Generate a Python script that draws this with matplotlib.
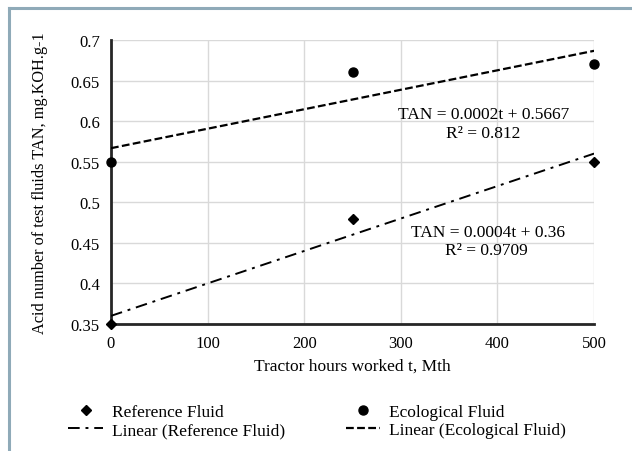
import numpy as np
from matplotlib import pyplot as plt
from matplotlib.lines import Line2D

hours = [0, 250, 500]
reference_tan = [0.35, 0.48, 0.55]
ecological_tan = [0.55, 0.66, 0.67]
x_ticks = [0, 100, 200, 300, 400, 500]
y_ticks = [0.35, 0.4, 0.45, 0.5, 0.55, 0.6, 0.65, 0.7]
ref_eq = ["TAN = 0.0004t + 0.36", "R² = 0.9709"]
eco_eq = ["TAN = 0.0002t + 0.5667", "R² = 0.812"]

plt.rcParams["font.family"] = ["Liberation Serif", "DejaVu Serif"]
plt.rcParams["font.size"] = 12

fig = plt.figure(figsize=(6.32, 4.52), dpi=100)
ax = fig.add_axes([0.1756, 0.281, 0.7644, 0.6283])

# linear trend lines fitted from the points
t = np.array([0, 500])
k_ref, b_ref = np.polyfit(hours, reference_tan, 1)
k_eco, b_eco = np.polyfit(hours, ecological_tan, 1)

ref_pts, = ax.plot(hours, reference_tan, linestyle="none", marker="D", markersize=5,
                   color="black", label="Reference Fluid", zorder=4, clip_on=False)
eco_pts, = ax.plot(hours, ecological_tan, linestyle="none", marker="o", markersize=6.5,
                   color="black", label="Ecological Fluid", zorder=4, clip_on=False)
ref_lin, = ax.plot(t, k_ref * t + b_ref, color="black", lw=1.4, linestyle=(0, (6, 3, 1.5, 3)),
                   label="Linear (Reference Fluid)", zorder=3)
eco_lin, = ax.plot(t, k_eco * t + b_eco, color="black", lw=1.6, linestyle=(0, (3.5, 1.5)),
                   label="Linear (Ecological Fluid)", zorder=3)

ax.set_xlim(0, 500)
ax.set_ylim(0.35, 0.7)
ax.set_xticks(x_ticks)
ax.set_yticks(y_ticks)
ax.set_yticklabels(["{:g}".format(v) for v in y_ticks])
ax.tick_params(length=0, pad=8, labelsize=12)
ax.grid(True, color="#d9d9d9", lw=1)
ax.set_axisbelow(True)
for side in ["top", "right"]:
    ax.spines[side].set_visible(False)
for side in ["left", "bottom"]:
    ax.spines[side].set_linewidth(2)
    ax.spines[side].set_color("#262626")

ax.set_xlabel("Tractor hours worked t, Mth", fontsize=12.5, labelpad=5)
ax.set_ylabel("Acid number of test fluids TAN, mg.KOH.g-1", fontsize=11.7, labelpad=16)

ax.text(386, 0.6088, eco_eq[0], ha="center", va="center", fontsize=12.5)
ax.text(385, 0.5854, eco_eq[1], ha="center", va="center", fontsize=12.5)
ax.text(390, 0.4634, ref_eq[0], ha="center", va="center", fontsize=12.5)
ax.text(389, 0.4412, ref_eq[1], ha="center", va="center", fontsize=12.5)

fig.legend([ref_pts, ref_lin, eco_pts, eco_lin],
           [h.get_label() for h in [ref_pts, ref_lin, eco_pts, eco_lin]],
           loc="center", bbox_to_anchor=(0.502, 0.066), ncol=2, frameon=False,
           handlelength=2.0, handletextpad=0.5, columnspacing=3.5, labelspacing=0.1,
           fontsize=12.5)

# light frame around the chart (only top and left visible in the crop)
frame_color = "#8faab8"
fig.add_artist(Line2D([9 / 632, 1], [1 - 9 / 452, 1 - 9 / 452], color=frame_color, lw=2.2,
                      transform=fig.transFigure))
fig.add_artist(Line2D([9 / 632, 9 / 632], [0, 1 - 9 / 452], color=frame_color, lw=2.2,
                      transform=fig.transFigure))

fig.savefig("out.png", dpi=100)
